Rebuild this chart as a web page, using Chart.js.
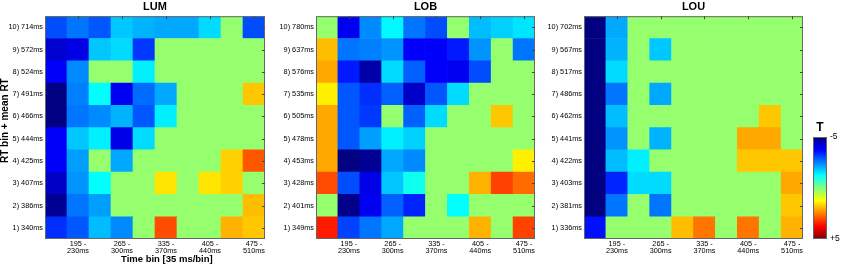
<!DOCTYPE html>
<html lang="en">
<head>
<meta charset="UTF-8">
<title>T maps per RT bin and time bin</title>
<script src="https://cdn.jsdelivr.net/npm/chart.js"></script>
<style>
  body { margin: 0; background: #fff; }
  #wrap { position: relative; width: 843px; height: 265px; }
  canvas { position: absolute; top: 0; }
</style>
</head>
<body>
<div id="wrap">
  <canvas id="lum" style="left:0px" width="272" height="265"></canvas>
  <canvas id="lob" style="left:272px" width="270" height="265"></canvas>
  <canvas id="lou" style="left:542px" width="268" height="265"></canvas>
  <canvas id="cbar" style="left:810px" width="33" height="265"></canvas>
</div>

<script>
// time bins (35 ms each), only every second one is labelled
const timeBinLabels = ['', ['195 -', '230ms'], '', ['265 -', '300ms'], '', ['335 -', '370ms'], '', ['405 -', '440ms'], '', ['475 -', '510ms']];

// RT bin labels, bin 1 first
const lumRtLabels = ['1) 340ms', '2) 386ms', '3) 407ms', '4) 425ms', '5) 444ms', '6) 466ms', '7) 491ms', '8) 524ms', '9) 572ms', '10) 714ms'];
const lobRtLabels = ['1) 349ms', '2) 401ms', '3) 428ms', '4) 453ms', '5) 478ms', '6) 505ms', '7) 535ms', '8) 576ms', '9) 637ms', '10) 780ms'];
const louRtLabels = ['1) 336ms', '2) 381ms', '3) 403ms', '4) 422ms', '5) 441ms', '6) 462ms', '7) 486ms', '8) 517ms', '9) 567ms', '10) 702ms'];

// T values, one row per RT bin (bin 1 first), 0 = not significant
const lumT = [
  [-3.3, -2.9, -1.9, -2.4, 0, 3.0, 0, 0, 2.0, 1.8],
  [-4.8, -2.6, -2.2, 0, 0, 0, 0, 0, 0, 1.9],
  [-4.3, -2.3, -1.25, 0, 0, 1.5, 0, 1.5, 1.7, 0],
  [-3.8, -2.2, 0, -2.1, 0, 0, 0, 0, 1.7, 2.9],
  [-3.8, -1.8, -1.4, -4.0, -1.6, 0, 0, 0, 0, 0],
  [-5, -2.6, -2.4, -2.0, -2.9, -1.4, 0, 0, 0, 0],
  [-5, -2.5, -1.25, -3.9, -2.7, -2.1, 0, 0, 0, 1.8],
  [-3.8, -2.4, 0, 0, -1.4, 0, 0, 0, 0, 0],
  [-4.2, -4.0, -1.8, -1.6, -3.2, 0, 0, 0, 0, 0],
  [-3.0, -2.6, -2.9, -1.8, -2.0, -2.1, -2.1, -1.6, 0, -3.0]
];
const lobT = [
  [3.5, -3.1, -2.6, -2.1, 0, 0, 0, 2.0, 0, 3.1],
  [0, -4.9, -3.9, -2.8, -3.4, 0, -1.25, 0, 0, 0],
  [3.0, -3.0, -4.0, -1.8, -1.1, 0, 0, 2.0, 3.1, 2.7],
  [2.1, -5, -4.8, -2.1, -2.4, 0, 0, 0, 0, 1.4],
  [2.1, -2.9, -2.2, -1.4, -1.7, 0, 0, 0, 0, 0],
  [2.1, -2.9, -3.2, 0, -2.8, -1.6, 0, 0, 1.8, 0],
  [1.4, -2.9, -3.3, -2.8, -4.3, -2.9, -1.6, 0, 0, 0],
  [2.1, -3.5, -4.6, -1.6, -2.8, -3.8, -3.9, -3.0, 0, 0],
  [1.9, -2.6, -2.5, -2.3, -3.8, -3.8, -3.5, -2.3, 0, -2.6],
  [0, -3.9, -2.4, -1.3, -2.6, -3.0, 0, -1.9, -1.7, -1.5]
];
const louT = [
  [-3.6, 0, 0, 0, 1.9, 2.6, 0, 2.6, 0, 2.0],
  [-5, -2.6, 0, -2.6, 0, 0, 0, 0, 0, 1.8],
  [-5, -3.4, -1.6, -1.6, 0, 0, 0, 0, 0, 2.1],
  [-5, -1.9, -1.4, 0, 0, 0, 0, 1.8, 1.8, 1.8],
  [-5, -2.3, 0, -2.0, 0, 0, 0, 2.1, 2.1, 0],
  [-5, -1.9, 0, 0, 0, 0, 0, 0, 1.8, 0],
  [-5, -2.6, 0, -2.1, 0, 0, 0, 0, 0, 0],
  [-5, -1.6, 0, 0, 0, 0, 0, 0, 0, 0],
  [-5, -2.0, 0, -1.8, 0, 0, 0, 0, 0, 0],
  [-5, -2.1, 0, 0, 0, 0, 0, 0, 0, 0]
];

const cbarTicks = [-5, 5];
const cbarTickLabels = ['-5', '+5'];

const nsGreen = 'rgb(150,255,110)';

Chart.defaults.font.family = "'Liberation Sans', Arial, sans-serif";
Chart.defaults.color = '#000';

function clamp(x) { return Math.max(0, Math.min(1, x)); }
function jet(t) {
  const r = clamp(Math.min(4 * t - 1.5, -4 * t + 4.5));
  const g = clamp(Math.min(4 * t - 0.5, -4 * t + 3.5));
  const b = clamp(Math.min(4 * t + 0.5, -4 * t + 2.5));
  return 'rgb(' + Math.round(r * 255) + ',' + Math.round(g * 255) + ',' + Math.round(b * 255) + ')';
}
function tColor(v) {
  if (v === 0) return nsGreen;
  return jet((v + 5) / 10);
}

// box round the plot and the little inside ticks on top and right
const frame = {
  id: 'frame',
  afterDatasetsDraw(chart, args, opts) {
    const { ctx, chartArea: a, scales } = chart;
    ctx.save();
    ctx.strokeStyle = '#666';
    ctx.lineWidth = 1;
    ctx.strokeRect(a.left + 0.5, a.top + 0.5, a.width - 1, a.height - 1);
    if (opts.ticks) {
      ctx.strokeStyle = '#444';
      ctx.beginPath();
      timeBinLabels.forEach((l, i) => {
        if (!l) return;
        const x = Math.round(scales.x.getPixelForValue(i)) + 0.5;
        ctx.moveTo(x, a.top);
        ctx.lineTo(x, a.top + 3);
      });
      for (let r = 1; r <= 10; r++) {
        const y = Math.round(scales.y.getPixelForValue(r)) + 0.5;
        ctx.moveTo(a.right, y);
        ctx.lineTo(a.right - 3, y);
      }
      ctx.stroke();
    }
    ctx.restore();
  }
};

function panel(id, title, rtLabels, tValues, yWidth, first) {
  const datasets = tValues.map((row, r) => ({
    data: row.map(() => [r + 0.5, r + 1.5]),
    backgroundColor: row.map(tColor),
    grouped: false,
    barPercentage: 1,
    categoryPercentage: 1,
    borderWidth: 0
  }));
  return new Chart(document.getElementById(id), {
    type: 'bar',
    data: { labels: timeBinLabels, datasets: datasets },
    options: {
      responsive: false,
      animation: false,
      layout: { padding: { right: 7 } },
      plugins: {
        legend: { display: false },
        tooltip: { enabled: false },
        frame: { ticks: true },
        title: {
          display: true, text: title, fullSize: false,
          font: { size: 11, weight: 'bold' },
          padding: { top: 0, bottom: 3 }
        }
      },
      scales: {
        x: {
          grid: { display: false, drawTicks: false },
          border: { display: false },
          ticks: { autoSkip: false, maxRotation: 0, padding: 1, font: { size: 7.3, lineHeight: 1.0 } },
          // leading spaces push the title a bit to the right like in the original
          title: { display: first, text: '         Time bin [35 ms/bin]', font: { size: 9.5, weight: 'bold' }, padding: 0 },
          afterFit: s => { s.height = 26; }
        },
        y: {
          min: 0.5, max: 10.5,
          grid: { display: false, drawTicks: false },
          border: { display: false },
          afterBuildTicks: s => { s.ticks = rtLabels.map((_, i) => ({ value: i + 1 })); },
          ticks: { padding: 2, font: { size: 7.3 }, callback: v => rtLabels[v - 1] },
          title: { display: first, text: '     RT bin + mean RT', font: { size: 10, weight: 'bold', lineHeight: 1.0 }, padding: 0 },
          afterFit: s => { s.width = yWidth; }
        }
      }
    },
    plugins: [frame]
  });
}

panel('lum', 'LUM', lumRtLabels, lumT, 45, true);
panel('lob', 'LOB', lobRtLabels, lobT, 44, false);
panel('lou', 'LOU', louRtLabels, louT, 42, false);

// colour bar
new Chart(document.getElementById('cbar'), {
  type: 'bar',
  data: {
    labels: [''],
    datasets: [{
      data: [[cbarTicks[0], cbarTicks[1]]],
      backgroundColor: c => {
        const a = c.chart.chartArea;
        if (!a) return null;
        const g = c.chart.ctx.createLinearGradient(0, a.top, 0, a.bottom);
        for (let k = 0; k <= 32; k++) g.addColorStop(k / 32, jet(k / 32));
        return g;
      },
      barPercentage: 1,
      categoryPercentage: 1,
      borderWidth: 0
    }]
  },
  options: {
    responsive: false,
    animation: false,
    layout: { padding: { left: 3, top: 120.6, bottom: 26 } },
    plugins: {
      legend: { display: false },
      tooltip: { enabled: false },
      frame: { ticks: false },
      title: {
        display: true, text: 'T', fullSize: false,
        font: { size: 12, weight: 'bold' },
        padding: { top: 0, bottom: 2 }
      }
    },
    scales: {
      x: { display: false },
      y: {
        position: 'right', reverse: true, min: -5, max: 5,
        grid: { display: false, drawTicks: false },
        border: { display: false },
        afterBuildTicks: s => { s.ticks = cbarTicks.map(v => ({ value: v })); },
        ticks: { padding: 3, font: { size: 8.5 }, callback: v => cbarTickLabels[cbarTicks.indexOf(v)] },
        afterFit: s => { s.width = 16; }
      }
    }
  },
  plugins: [frame]
});
</script>
</body>
</html>
